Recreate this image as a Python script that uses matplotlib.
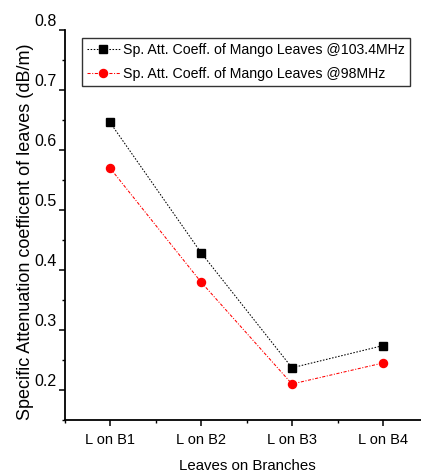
import matplotlib
matplotlib.use("Agg")
import matplotlib.pyplot as plt
from matplotlib.ticker import MultipleLocator, FixedLocator, FuncFormatter
from matplotlib.transforms import ScaledTranslation

plt.rcParams['font.family'] = ['Liberation Sans', 'DejaVu Sans']

categories = ["L on B1", "L on B2", "L on B3", "L on B4"]
att_1034 = [0.646, 0.429, 0.237, 0.274]
att_98 = [0.570, 0.380, 0.210, 0.245]
label_1034 = "Sp. Att. Coeff. of Mango Leaves @103.4MHz"
label_98 = "Sp. Att. Coeff. of Mango Leaves @98MHz"

W, H = 421, 476
fig = plt.figure(figsize=(W / 100, H / 100), dpi=100)
left, right, top, bottom = 64.5, 428.5, 30, 420
aw, ah = right - left, bottom - top
ax = fig.add_axes([left / W, 1 - bottom / H, aw / W, ah / H])

x = list(range(1, len(categories) + 1))
ax.plot(x, att_1034, color='black', lw=0.75, ls=(0, (1.5, 1.5)), marker='s', ms=5.5,
        label=label_1034)
ax.plot(x, att_98, color='red', lw=0.75, ls=(0, (3, 1.5, 1, 1.5)), marker='o', ms=5.8,
        label=label_98)

ax.set_xlim(0.5, 4.5)
ax.set_ylim(0.15, 0.8)
ax.set_xticks(x)
ax.set_xticklabels(categories)
ax.xaxis.set_minor_locator(FixedLocator([0.5, 1.5, 2.5, 3.5]))
ax.yaxis.set_major_locator(FixedLocator([0.2, 0.3, 0.4, 0.5, 0.6, 0.7, 0.8]))
ax.yaxis.set_minor_locator(MultipleLocator(0.05))
ax.yaxis.set_major_formatter(FuncFormatter(lambda v, p: f"{v:.1f}"))

for s in ['top', 'right']:
    ax.spines[s].set_visible(False)
for s in ['left', 'bottom']:
    ax.spines[s].set_linewidth(1.3)
ax.tick_params(which='major', direction='out', length=4.2, width=1.1)
ax.tick_params(which='minor', direction='out', length=2.5, width=1.0)
ax.tick_params(axis='x', which='major', labelsize=10.5, pad=5)
ax.tick_params(axis='y', which='major', labelsize=11.5, pad=1.5)

shift = ScaledTranslation(0, 0.10, fig.dpi_scale_trans)
for lab in ax.get_yticklabels():
    lab.set_transform(lab.get_transform() + shift)

ax.set_xlabel("Leaves on Branches", fontsize=10.8, va='top')
ax.xaxis.set_label_coords((247.5 - left) / aw, (bottom - 459.5) / ah)
ax.set_ylabel("Specific Attenuation coefficent of leaves (dB/m)", fontsize=13)
ax.yaxis.set_label_coords((34 - left) / aw, (bottom - 232) / ah)

leg = ax.legend(loc='upper left', bbox_to_anchor=((82 - left) / aw, 1 - (38 - top) / ah),
                fontsize=10.2, frameon=True, fancybox=False, edgecolor='black',
                borderpad=0.35, handlelength=2.3, handletextpad=0.27, labelspacing=0.72,
                borderaxespad=0)
leg.get_frame().set_linewidth(1.0)

fig.savefig("out.png", dpi=100)
